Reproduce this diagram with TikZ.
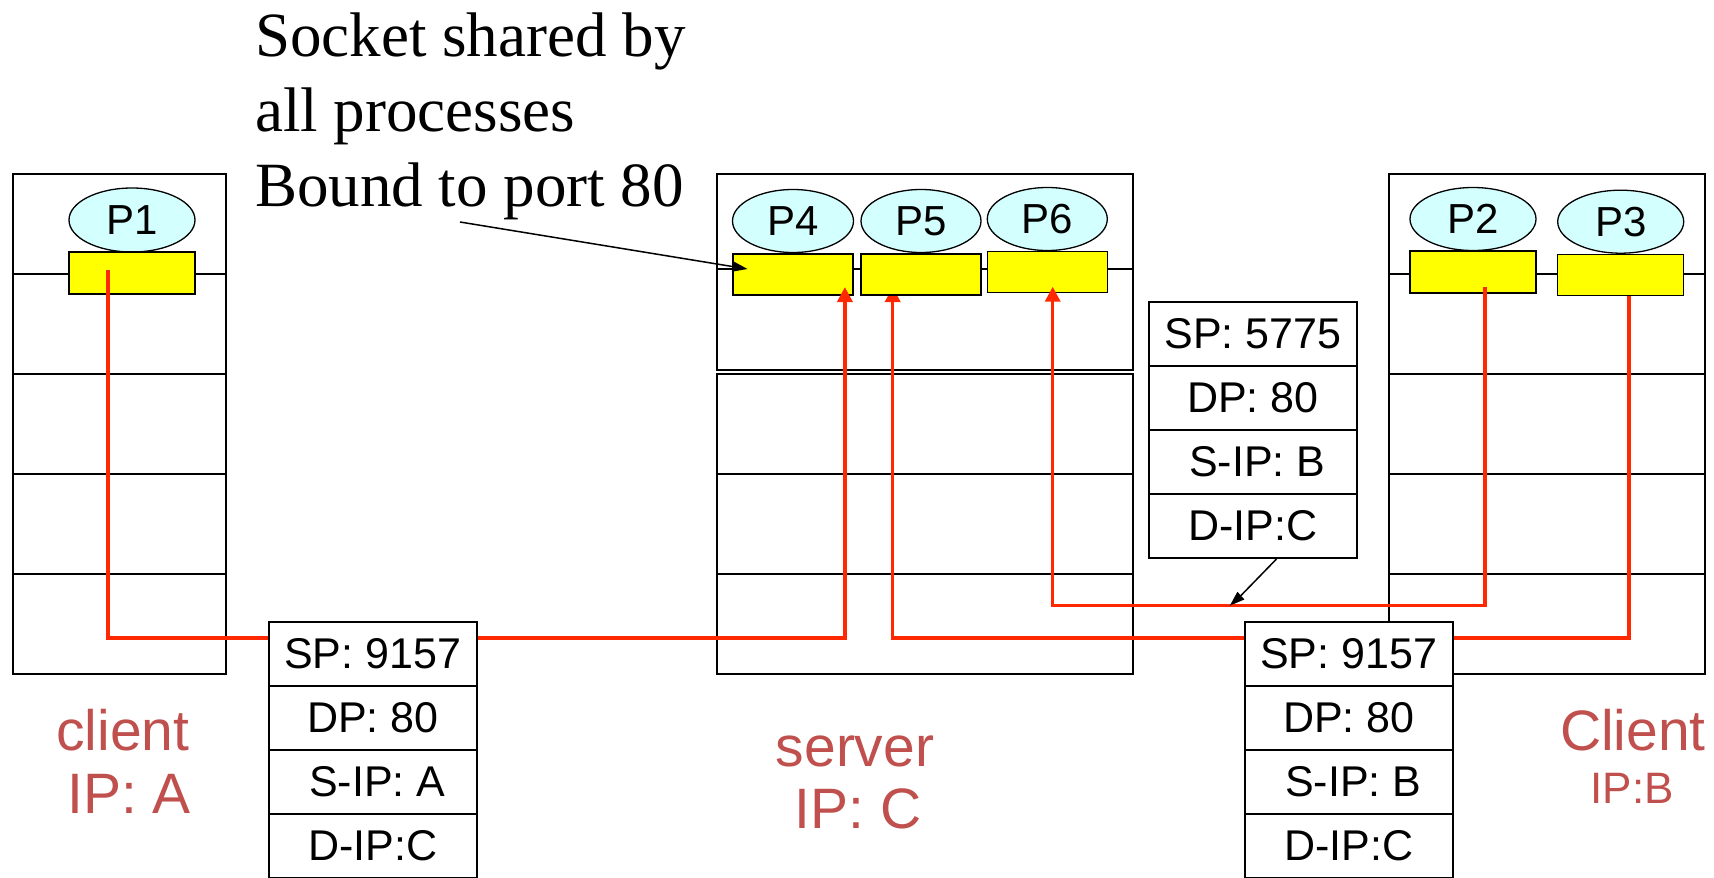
\documentclass[tikz,border=0pt]{standalone}
\usepackage{fontspec}
\setmainfont{Liberation Sans}
\newfontfamily\capfont{Liberation Serif}
\usetikzlibrary{shapes.geometric,arrows.meta,calc}

\definecolor{wirered}{RGB}{255,40,0}
\definecolor{proccyan}{RGB}{212,255,255}
\definecolor{sockyellow}{RGB}{255,255,0}
\definecolor{labelred}{RGB}{192,80,77}

\begin{document}
\begin{tikzpicture}[x=1pt,y=-1pt,
  host/.style={draw=black,line width=1.8pt,inner sep=0pt},
  layer/.style={draw=black,line width=1.8pt},
  proc/.style={ellipse,draw=black,line width=1.3pt,fill=proccyan,inner sep=0pt,
    font=\fontsize{42}{42}\selectfont},
  sock/.style={rectangle,draw=black,line width=1.3pt,fill=sockyellow,inner sep=0pt,
    minimum height=41pt},
  wire/.style={draw=wirered,line width=3.5pt},
  wiretip/.style={-{Triangle[length=15pt,width=15pt]}},
  pointer/.style={draw=black,line width=1.5pt,-{Triangle[length=15pt,width=10pt]}},
  field/.style={rectangle,draw=black,line width=2.2pt,fill=white,inner sep=0pt,
    minimum width=208pt,minimum height=64pt,font=\fontsize{43}{43}\selectfont},
  hostlabel/.style={anchor=base,inner sep=0pt,text=labelred,font=\fontsize{57}{57}\selectfont},
  caption/.style={anchor=base west,inner sep=0pt,font=\capfont\fontsize{63}{75}\selectfont}]

\useasboundingbox (0,0) rectangle (1714,878);

% --- hosts and their protocol layers ---
\node[host,minimum width=213pt,minimum height=500pt] (hostA) at (119.2,424) {};
\foreach \yy in {274,374,474,574}
  \draw[layer] (hostA.west |- 0,\yy) -- (hostA.east |- 0,\yy);

\node[host,minimum width=416pt,minimum height=196pt] (srvApp) at (924.7,272) {};
\draw[layer] (srvApp.west |- 0,269.3) -- (srvApp.east |- 0,269.3);
\node[host,minimum width=416pt,minimum height=300pt] (srvNet) at (924.7,524.2) {};
\foreach \yy in {474,574}
  \draw[layer] (srvNet.west |- 0,\yy) -- (srvNet.east |- 0,\yy);

\node[host,minimum width=316pt,minimum height=500pt] (hostB) at (1546.9,424) {};
\foreach \yy in {274,374,474,574}
  \draw[layer] (hostB.west |- 0,\yy) -- (hostB.east |- 0,\yy);

% --- socket positions (needed before the hidden wire) ---
\coordinate (s3c) at (1620.8,275);
\coordinate (s5c) at (921,274.5);
\coordinate (w3) at ($(s3c)+(8,0)$);
\coordinate (w5) at ($(s5c)+(-28.3,12.5)$);

% P3 -> P5 wire runs underneath the sockets
\draw[wire,wiretip] (w3) |- (w5 |- 0,638) -- (w5);

% --- processes ---
\node[proc,minimum width=126pt,minimum height=64pt] (p1) at (132,220) {P1};
\node[proc,minimum width=121pt,minimum height=63pt] (p4) at (793,221) {P4};
\node[proc,minimum width=120pt,minimum height=63pt] (p5) at (921,221) {P5};
\node[proc,minimum width=120pt,minimum height=63pt] (p6) at (1047.3,219) {P6};
\node[proc,minimum width=126pt,minimum height=63pt] (p2) at (1473,219) {P2};
\node[proc,minimum width=126pt,minimum height=63pt] (p3) at (1620.7,221.7) {P3};

% --- sockets ---
\node[sock,minimum width=126pt,minimum height=42pt] (s1) at (132,273) {};
\node[sock,minimum width=120pt] (s4) at (792.9,274.5) {};
\node[sock,minimum width=120pt] (s5) at (s5c) {};
\node[sock,minimum width=120pt] (s6) at (1047.5,272.2) {};
\node[sock,minimum width=126pt,minimum height=42pt] (s2) at (1473,271.9) {};
\node[sock,minimum width=126pt] (s3) at (s3c) {};

% --- demultiplexing wires ---
\coordinate (w1) at ($(s1.center)+(-24,-3)$);
\coordinate (w4) at ($(s4.center)+(52,12.5)$);
\draw[wire,wiretip] (w1) |- (w4 |- 0,638) -- (w4);

\coordinate (w2) at ($(s2.center)+(12,14.8)$);
\coordinate (w6) at ($(s6.center)+(5.2,14.5)$);
\draw[wire,wiretip] (w2) |- (w6 |- 0,605.7) -- (w6);

% --- segment headers ---
\node[field] (pkA1) at (372.75,653.7) {SP: 9157};
\node[field] (pkA2) at (372.75,717.7) {DP: 80};
\node[field] (pkA3) at (372.75,781.7) {\hspace*{9pt}S-IP: A};
\node[field] (pkA4) at (372.75,845.7) {D-IP:C};

\node[field] (pkM1) at (1252.9,333.7) {SP: 5775};
\node[field] (pkM2) at (1252.9,397.7) {DP: 80};
\node[field] (pkM3) at (1252.9,461.9) {\hspace*{9pt}S-IP: B};
\node[field] (pkM4) at (1252.9,526) {D-IP:C};

\node[field] (pkB1) at (1348.75,654) {SP: 9157};
\node[field] (pkB2) at (1348.75,718) {DP: 80};
\node[field] (pkB3) at (1348.75,782) {\hspace*{9pt}S-IP: B};
\node[field] (pkB4) at (1348.75,846) {D-IP:C};

\coordinate (hit) at (1229.8,605.7);
\draw[pointer] ($(pkM4.south)+(23.5,0)$) -- (hit);

% --- caption ---
\node[caption] (cap1) at (255,56) {Socket shared by};
\node[caption] (cap2) at (255,131) {all processes};
\node[caption] (cap3) at (255,206) {Bound to port 80};
\coordinate (capstart) at (460,222);
\draw[pointer] (capstart) -- ($(s4.west)+(15.3,-5.5)$);

% --- host labels ---
\node[hostlabel] (lblA1) at (123,750) {client};
\node[hostlabel] (lblA2) at (129,813) {IP: A};
\node[hostlabel] (lblC1) at (855,766) {server};
\node[hostlabel] (lblC2) at (858,828) {IP: C};
\node[hostlabel] (lblB1) at (1633,750) {Client};
\node[hostlabel,font=\fontsize{44}{44}\selectfont] (lblB2) at (1632,803) {IP:B};
\end{tikzpicture}
\end{document}
